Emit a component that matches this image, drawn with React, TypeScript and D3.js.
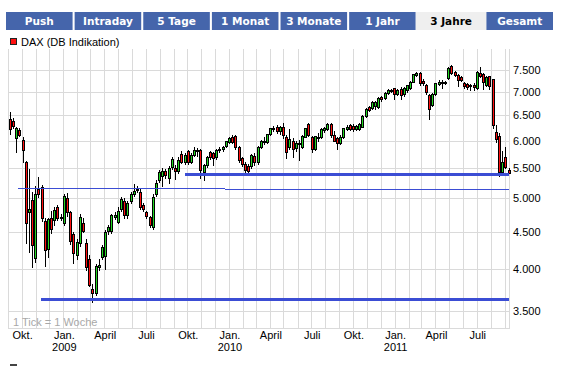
import * as d3 from "d3"

const tabs = ["Push", "Intraday", "5 Tage", "1 Monat", "3 Monate", "1 Jahr", "3 Jahre", "Gesamt"]
const activeTab = "3 Jahre"
const seriesName = "DAX (DB Indikation)"
const footNote = "1 Tick = 1 Woche"

// weekly candles, one per Friday
const firstWeek = new Date(2008, 8, 5)
const afterLastWeek = new Date(2011, 8, 10)

const opens = [
  6420, 6390, 6040, 6205, 6020, 5600, 4790, 4970, 4135, 5150,
  5180, 4650, 4260, 4700, 4670, 4860, 4715, 4620, 5000, 4780,
  4470, 4180, 4340, 4630, 4340, 4120, 3754, 3700, 4025, 4152,
  4160, 4510, 4510, 4710, 4640, 4830, 4950, 4740, 4955, 5065,
  5130, 5100, 4890, 4780, 4710, 4560, 5060, 5290, 5365, 5450,
  5330, 5520, 5510, 5450, 5750, 5610, 5800, 5610, 5740, 5820,
  5830, 5430, 5550, 5790, 5760, 5690, 5850, 5840, 5890, 5965,
  6070, 6090, 5870, 5670, 5580, 5540, 5530, 5720, 5600, 5880,
  5990, 5980, 6120, 6235, 6260, 6180, 6270, 6075, 5880, 6000,
  5860, 5960, 5880, 6075, 6330, 6075, 5840, 6070, 6060, 6200,
  6220, 6330, 6110, 6050, 5960, 6060, 6230, 6300, 6280, 6220,
  6230, 6270, 6480, 6680, 6660, 6700, 6680, 6880, 6860, 6975,
  7030, 7080, 6950, 7070, 6950, 7050, 7080, 7230, 7385, 7420,
  7250, 7150, 6925, 6720, 6950, 7170, 7230, 7190, 7310, 7600,
  7460, 7385, 7340, 7190, 7170, 7120, 7160, 7080, 7440, 7405,
  7150, 7360, 7280, 6165, 6085, 5440, 5690, 5460,
]
const highs = [
  6560, 6440, 6270, 6240, 6060, 5620, 5480, 5100, 5200, 5340,
  5220, 4700, 4700, 4800, 4860, 4890, 4760, 5060, 5080, 4800,
  4500, 4400, 4760, 4700, 4400, 4180, 3810, 4060, 4120, 4310,
  4520, 4590, 4760, 4780, 4860, 5020, 5000, 4960, 5100, 5230,
  5200, 5150, 4920, 4800, 4730, 5060, 5300, 5470, 5500, 5480,
  5530, 5690, 5560, 5690, 5800, 5760, 5830, 5760, 5880, 5860,
  5850, 5580, 5720, 5810, 5780, 5850, 5880, 5900, 6000, 6060,
  6110, 6100, 5890, 5700, 5600, 5570, 5750, 5760, 5900, 6010,
  6060, 6130, 6250, 6280, 6300, 6290, 6340, 6100, 6220, 6050,
  6000, 6020, 6100, 6240, 6350, 6090, 6090, 6150, 6240, 6270,
  6350, 6350, 6190, 6070, 6100, 6250, 6300, 6320, 6330, 6300,
  6350, 6500, 6650, 6700, 6790, 6800, 6880, 6900, 6990, 7060,
  7070, 7090, 7060, 7100, 7110, 7160, 7250, 7410, 7460, 7450,
  7290, 7180, 6950, 6980, 7200, 7270, 7260, 7250, 7570, 7620,
  7480, 7400, 7360, 7220, 7190, 7180, 7200, 7470, 7560, 7420,
  7360, 7370, 7300, 6300, 6150, 5810, 5880, 5500,
]
const lows = [
  6130, 6250, 5780, 6080, 5600, 4335, 4220, 4025, 4090, 5020,
  4650, 4040, 4150, 4480, 4600, 4670, 4660, 4600, 4720, 4330,
  4080, 4120, 4300, 4490, 3990, 3790, 3600, 3680, 3990, 4120,
  4000, 4470, 4480, 4680, 4620, 4800, 4700, 4700, 4930, 5040,
  5100, 4840, 4800, 4700, 4570, 4540, 5030, 5260, 5200, 5330,
  5250, 5480, 5320, 5420, 5590, 5580, 5580, 5590, 5720, 5720,
  5325, 5300, 5520, 5660, 5550, 5660, 5780, 5800, 5870, 5950,
  5960, 5850, 5600, 5540, 5420, 5400, 5500, 5560, 5580, 5860,
  5940, 5950, 6100, 6180, 6150, 6120, 6050, 5670, 5850, 5700,
  5800, 5650, 5860, 6060, 6080, 5790, 5830, 6000, 6040, 6170,
  6200, 6060, 5990, 5850, 5930, 6040, 6200, 6200, 6180, 6200,
  6210, 6260, 6470, 6590, 6640, 6620, 6660, 6800, 6840, 6960,
  7000, 6840, 6920, 6840, 6900, 7000, 7060, 7210, 7360, 7160,
  7150, 6960, 6420, 6700, 6930, 7150, 7080, 7170, 7290, 7400,
  7370, 7120, 7240, 7080, 7060, 7040, 7040, 7060, 7340, 7060,
  7130, 7060, 6250, 5980, 5360, 5400, 5500, 5410,
]
const closes = [
  6225, 6280, 6240, 6110, 5830, 4620, 4830, 4310, 5060, 5060,
  4700, 4245, 4680, 4535, 4820, 4700, 4690, 5035, 4780, 4370,
  4200, 4360, 4710, 4510, 4025, 3806, 3700, 4040, 4050, 4280,
  4490, 4560, 4735, 4740, 4800, 4985, 4740, 4930, 5065, 5120,
  5150, 4870, 4840, 4730, 4600, 5025, 5250, 5440, 5455, 5380,
  5505, 5655, 5450, 5650, 5610, 5740, 5610, 5740, 5820, 5800,
  5460, 5560, 5700, 5690, 5670, 5830, 5820, 5880, 5990, 6040,
  5980, 5870, 5640, 5580, 5460, 5450, 5730, 5600, 5880, 5990,
  5980, 6120, 6235, 6250, 6180, 6260, 6100, 5790, 6030, 5850,
  5960, 5930, 6090, 6235, 6100, 5835, 6080, 6040, 6220, 6250,
  6330, 6100, 6000, 5960, 6060, 6240, 6270, 6230, 6220, 6280,
  6330, 6490, 6620, 6610, 6770, 6780, 6870, 6840, 6975, 7050,
  7040, 6960, 7040, 6940, 7090, 7150, 7230, 7400, 7440, 7190,
  7190, 6985, 6640, 6960, 7190, 7230, 7200, 7230, 7555, 7420,
  7385, 7270, 7270, 7130, 7100, 7150, 7110, 7460, 7360, 7230,
  7330, 7120, 6310, 6030, 5440, 5600, 5520, 5420,
]

const yTicks = [3500, 4000, 4500, 5000, 5500, 6000, 6500, 7000, 7500]

const quarterLabels = [
  { date: new Date(2008, 9, 1), label: "Okt.", year: "" },
  { date: new Date(2009, 0, 1), label: "Jan.", year: "2009" },
  { date: new Date(2009, 3, 1), label: "April", year: "" },
  { date: new Date(2009, 6, 1), label: "Juli", year: "" },
  { date: new Date(2009, 9, 1), label: "Okt.", year: "" },
  { date: new Date(2010, 0, 1), label: "Jan.", year: "2010" },
  { date: new Date(2010, 3, 1), label: "April", year: "" },
  { date: new Date(2010, 6, 1), label: "Juli", year: "" },
  { date: new Date(2010, 9, 1), label: "Okt.", year: "" },
  { date: new Date(2011, 0, 1), label: "Jan.", year: "2011" },
  { date: new Date(2011, 3, 1), label: "April", year: "" },
  { date: new Date(2011, 6, 1), label: "Juli", year: "" },
]

// drawn trend / support lines
const trendLines = [
  { from: new Date(2008, 8, 23), to: new Date(2011, 8, 10), p0: 5158, p1: 5134, width: 1 },
  { from: new Date(2009, 8, 26), to: new Date(2011, 8, 10), p0: 5397, p1: 5397, width: 3 },
  { from: new Date(2008, 10, 13), to: new Date(2011, 8, 10), p0: 3634, p1: 3634, width: 3 },
]

const W = 563
const H = 366
const plot = { left: 8, right: 509, top: 49, bottom: 328 }

const upColor = "#22d622"
const downColor = "#ff1010"
const gridColor = "#dadada"
const lineBlue = "#3b4dd4"
const tabBlue = "#4565ab"
const axisFont = "'Liberation Sans', Arial, sans-serif"

const fmt = d3.formatLocale({ decimal: ",", thousands: ".", grouping: [3], currency: ["", "€"] }).format(",d")

export default function App() {
  const weeks = d3.timeFriday.range(firstWeek, afterLastWeek)

  const x = d3
    .scaleTime()
    .domain([new Date(2008, 8, 1), new Date(2011, 8, 10)])
    .range([plot.left, plot.right])

  const y = d3.scaleLog().domain([3317, 8015]).range([plot.bottom, plot.top])

  const months = d3.timeMonth.range(new Date(2008, 8, 1), new Date(2011, 8, 2))

  const tabX = d3.scaleBand<string>().domain(tabs).range([6, 553]).paddingInner(0.03)

  const candles = weeks.map((d, i) => ({
    date: d,
    o: opens[i],
    h: highs[i],
    l: lows[i],
    c: closes[i],
  }))

  const px = (v: number) => Math.round(v)

  return (
    <svg
      width={W}
      height={H}
      viewBox={`0 0 ${W} ${H}`}
      style={{ position: "absolute", left: 0, top: 0, background: "#fff" }}
    >
      {/* tabs */}
      <g fontFamily="'DejaVu Sans', Verdana, sans-serif" fontWeight="bold" fontSize={10.5}>
        {tabs.map((t) => {
          const active = t === activeTab
          const x0 = tabX(t)!
          const bw = tabX.bandwidth()
          const pad = active ? tabX.step() - bw : 0
          return (
            <g key={t}>
              <rect
                x={x0 - (active ? pad : 0)}
                y={12}
                width={bw + (active ? pad * 2 : 0)}
                height={18}
                fill={active ? "#efefef" : tabBlue}
              />
              <text x={x0 + bw / 2} y={25} textAnchor="middle" fill={active ? "#000" : "#fff"}>
                {t}
              </text>
            </g>
          )
        })}
      </g>

      {/* legend */}
      <rect x={10.5} y={38.5} width={6} height={6} fill={downColor} stroke="#222" />
      <text x={21} y={45.5} fontFamily={axisFont} fontSize={11} fill="#000">
        {seriesName}
      </text>

      {/* grid */}
      <g shapeRendering="crispEdges" stroke={gridColor} strokeWidth={1}>
        {months.map((m) => (
          <line key={+m} x1={px(x(m)) + 0.5} x2={px(x(m)) + 0.5} y1={plot.top} y2={plot.bottom} />
        ))}
        <line x1={plot.right + 0.5} x2={plot.right + 0.5} y1={plot.top} y2={plot.bottom} />
        {yTicks.map((t) => (
          <line key={t} x1={plot.left} x2={plot.right + 1} y1={px(y(t)) + 0.5} y2={px(y(t)) + 0.5} />
        ))}
        <line x1={plot.left} x2={plot.right + 1} y1={plot.bottom + 0.5} y2={plot.bottom + 0.5} />
      </g>

      <text x={13} y={326} fontFamily={axisFont} fontSize={11} fill="#a8a8a8">
        {footNote}
      </text>

      {/* candles */}
      <g shapeRendering="crispEdges">
        {candles.map((k) => {
          const cx = px(x(k.date))
          const top = px(y(Math.max(k.o, k.c)))
          const bot = px(y(Math.min(k.o, k.c)))
          const up = k.c >= k.o
          return (
            <g key={+k.date}>
              <line
                x1={cx + 0.5}
                x2={cx + 0.5}
                y1={px(y(k.h))}
                y2={px(y(k.l)) + 1}
                stroke="#000"
              />
              <rect
                x={cx - 0.5}
                y={top + 0.5}
                width={2}
                height={Math.max(bot - top, 1)}
                fill={up ? upColor : downColor}
                stroke="#000"
              />
            </g>
          )
        })}
      </g>

      {/* trend lines */}
      <g shapeRendering="crispEdges">
        {trendLines.map((l, i) => (
          <line
            key={i}
            x1={x(l.from)}
            x2={Math.min(x(l.to), plot.right + 1)}
            y1={y(l.p0)}
            y2={y(l.p1)}
            stroke={lineBlue}
            strokeWidth={l.width}
          />
        ))}
      </g>

      {/* y axis labels */}
      <g fontFamily={axisFont} fontSize={11} fill="#000">
        {yTicks.map((t) => (
          <text key={t} x={513} y={y(t)} dy="0.36em">
            {fmt(t)}
          </text>
        ))}
      </g>

      {/* x axis labels */}
      <g fontFamily={axisFont} fontSize={11} fill="#000" textAnchor="middle">
        {quarterLabels.map((q) => (
          <g key={+q.date}>
            <text x={x(q.date) + 1} y={339}>
              {q.label}
            </text>
            {q.year && (
              <text x={x(q.date) + 1} y={351}>
                {q.year}
              </text>
            )}
          </g>
        ))}
      </g>

      {/* next legend row, cut by the frame */}
      <rect x={10} y={364} width={7} height={7} fill="#444" />
      <text x={21} y={374} fontFamily={axisFont} fontSize={11} fill="#000">
        {seriesName}
      </text>
    </svg>
  )
}
